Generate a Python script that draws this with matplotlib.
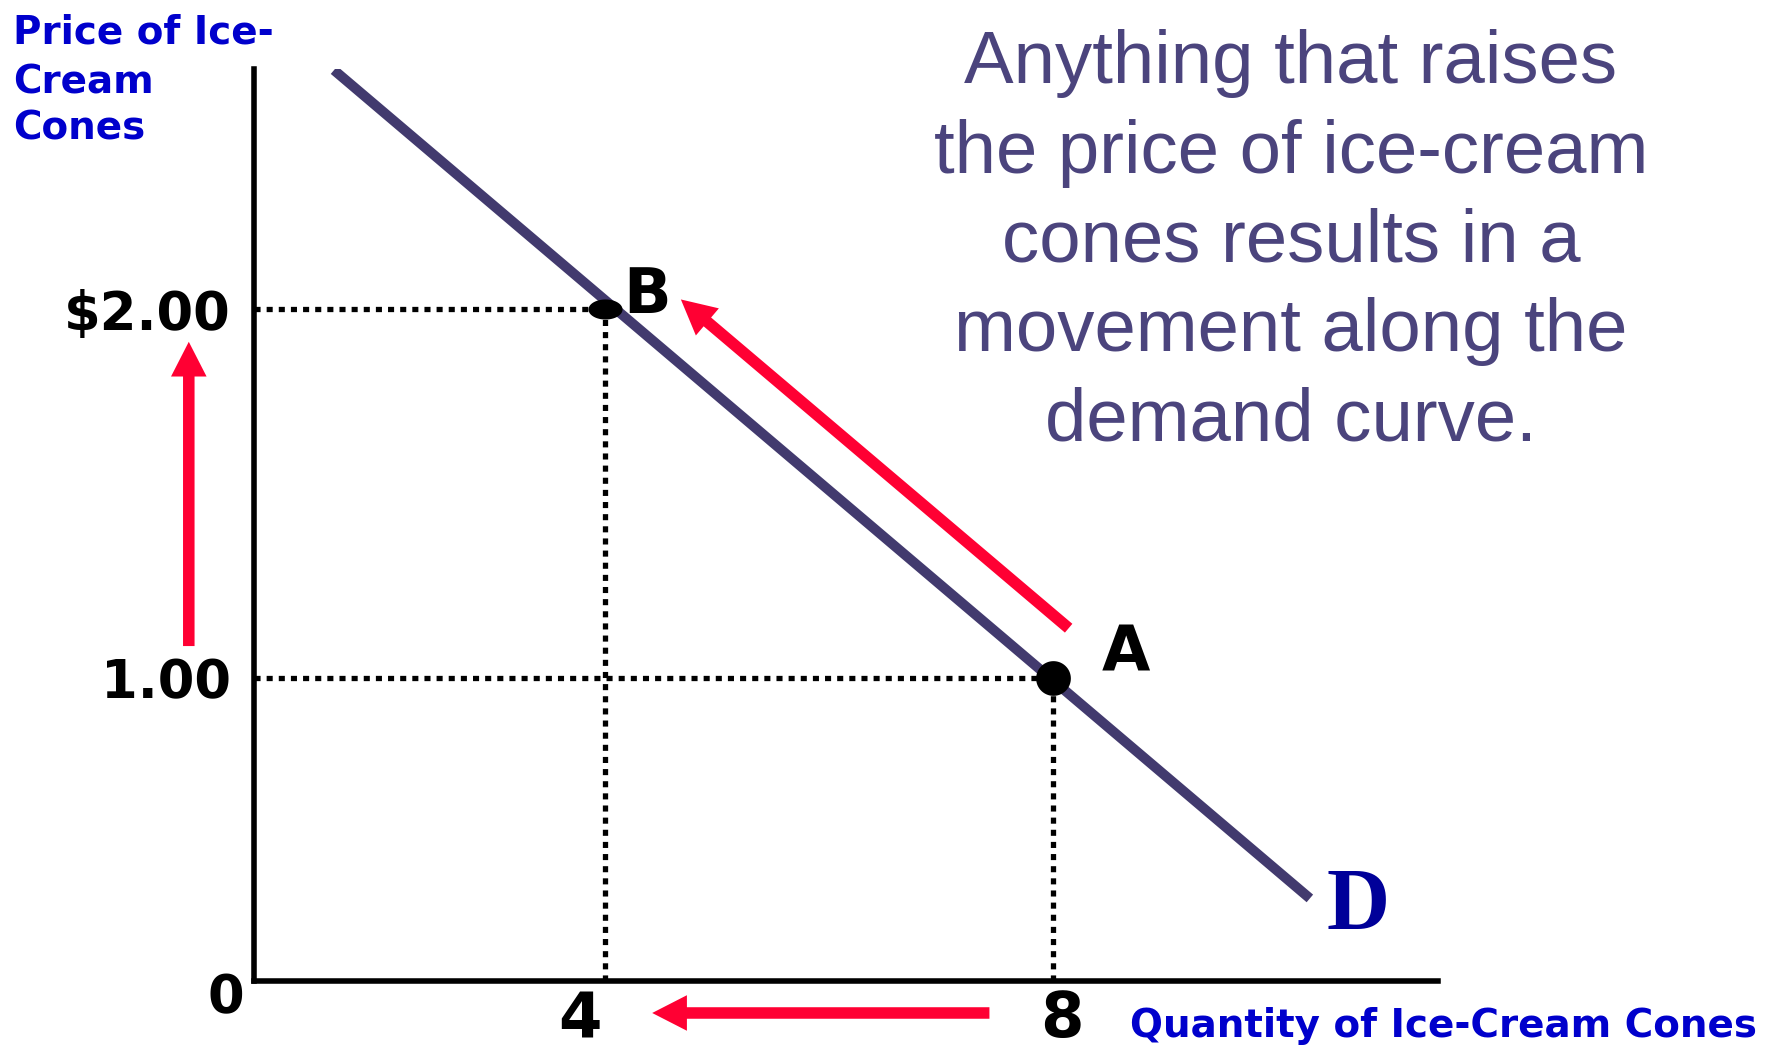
import matplotlib
matplotlib.use("Agg")
import matplotlib.pyplot as plt
from matplotlib.path import Path
from matplotlib.transforms import ScaledTranslation
import numpy as np

# ---------------- data ----------------
demand_quantity = [1.58, 10.29]
demand_price = [2.65, 0.40]

point_names = ["A", "B"]
point_quantity = [8, 4]
point_price = [1.00, 2.00]

price_ticks = [1.00, 2.00]
price_tick_labels = ["1.00", r"\$2.00"]
quantity_ticks = [4, 8]
quantity_tick_labels = ["4", "8"]
origin_label = "0"
curve_label = "D"

y_axis_label_lines = ["Price of Ice-", "Cream", "Cones"]
x_axis_label = "Quantity of Ice-Cream Cones"
message_lines = [
    "Anything that raises",
    "the price of ice-cream",
    "cones results in a",
    "movement along the",
    "demand curve.",
]

# ---------------- style / layout ----------------
W, H = 1769, 1049
PURPLE = "#423A6E"
RED = "#FF0033"
LABEL_BLUE = "#0000CC"
D_BLUE = "#000099"
MSG_COLOR = "#4B447D"
BOLD_FONT = "DejaVu Sans"


def fx(x):
    return x / W


def fy(y):
    return 1 - y / H


fig = plt.figure(figsize=(W / 100, H / 100), dpi=100)
fig.patch.set_facecolor("white")

ax_left, ax_right, ax_top, ax_bottom = 254, 1437.6, 69, 980.7
ax = fig.add_axes([fx(ax_left), fy(ax_bottom), (ax_right - ax_left) / W, (ax_bottom - ax_top) / H])
xmin, xmax = 0.866, 11.43
ymin, ymax = 0.1765, 2.653
ax.set_xlim(xmin, xmax)
ax.set_ylim(ymin, ymax)
ax.set_facecolor("none")

for side in ("top", "right"):
    ax.spines[side].set_visible(False)
for side in ("left", "bottom"):
    ax.spines[side].set_linewidth(4)
    ax.spines[side].set_color("black")

# dotted guide lines
dot_kw = dict(color="black", lw=3.8, linestyle=(0, (1.15, 1.15)), dash_capstyle="butt", zorder=2)
for q, p in zip(point_quantity, point_price):
    ax.plot([xmin, q], [p, p], **dot_kw)
    ax.plot([q, q], [ymin, p], **dot_kw)

# demand curve
ax.plot(demand_quantity, demand_price, color=PURPLE, lw=7.2, solid_capstyle="butt", zorder=3)

# points
theta = np.linspace(0, 2 * np.pi, 72)
marker_aspect = {"A": 1.0, "B": 0.59}
marker_size = {"A": 25, "B": 24.5}
for name, q, p in zip(point_names, point_quantity, point_price):
    verts = np.column_stack([np.cos(theta), marker_aspect[name] * np.sin(theta)])
    ax.plot([q], [p], marker=Path(verts, closed=True), ms=marker_size[name],
            color="black", mec="black", mew=0, zorder=4, linestyle="none")

# point labels
label_pos = {"A": (8.65, 1.018), "B": (4.375, 1.99)}
for name in point_names:
    lx, ly = label_pos[name]
    ax.text(lx, ly, name, ha="center", va="baseline", fontsize=45,
            fontweight="bold", family=BOLD_FONT, color="black", zorder=5)

# curve label
ax.text(10.72, 0.317, curve_label, ha="center", va="baseline", fontsize=63,
        fontweight="bold", family="Liberation Serif", color=D_BLUE)

# ticks
ax.set_yticks(price_ticks, price_tick_labels, fontsize=38, fontweight="bold", family=BOLD_FONT)
ax.tick_params(axis="y", length=0, pad=16.5)
ax.set_xticks(quantity_ticks, quantity_tick_labels, fontsize=45, fontweight="bold", family=BOLD_FONT)
ax.tick_params(axis="x", length=0, pad=6.7)
x_label_offsets_px = [-25, 9]
for lab, dx in zip(ax.get_xticklabels(), x_label_offsets_px):
    lab.set_transform(lab.get_transform() + ScaledTranslation(dx / 100, 0, fig.dpi_scale_trans))

fig.text(fx(226), fy(1013), origin_label, ha="center", va="baseline", fontsize=38,
         fontweight="bold", family=BOLD_FONT, color="black")

# red arrows (annotations)
arrow_style = "simple,head_length=25,head_width=25.6,tail_width=8.3"
arrows = [
    ((0.284, 1.0855), (0.284, 1.912)),   # price rise
    ((7.43, 0.0888), (4.42, 0.0888)),    # quantity fall
    ((8.137, 1.134), (4.676, 2.027)),    # movement along the curve
]
for tail, tip in arrows:
    ax.annotate("", xy=tip, xytext=tail, xycoords="data", textcoords="data",
                annotation_clip=False,
                arrowprops=dict(arrowstyle=arrow_style, mutation_scale=1,
                                fc=RED, ec="none", lw=0, shrinkA=0, shrinkB=0,
                                clip_on=False))

# axis titles
y_label_baselines = [43, 93, 140]
for line, b in zip(y_axis_label_lines, y_label_baselines):
    fig.text(fx(13), fy(b), line, ha="left", va="baseline", fontsize=28,
             fontweight="bold", family=BOLD_FONT, color=LABEL_BLUE)

fig.text(fx(1130), fy(1037), x_axis_label, ha="left", va="baseline", fontsize=28,
         fontweight="bold", family=BOLD_FONT, color=LABEL_BLUE)

# message
msg_baselines = [82.7, 172.7, 261.7, 350.7, 440.7]
for line, b in zip(message_lines, msg_baselines):
    fig.text(fx(1291), fy(b), line, ha="center", va="baseline", fontsize=53.6,
             family="Liberation Sans", color=MSG_COLOR)

fig.savefig("out.png", dpi=100)
